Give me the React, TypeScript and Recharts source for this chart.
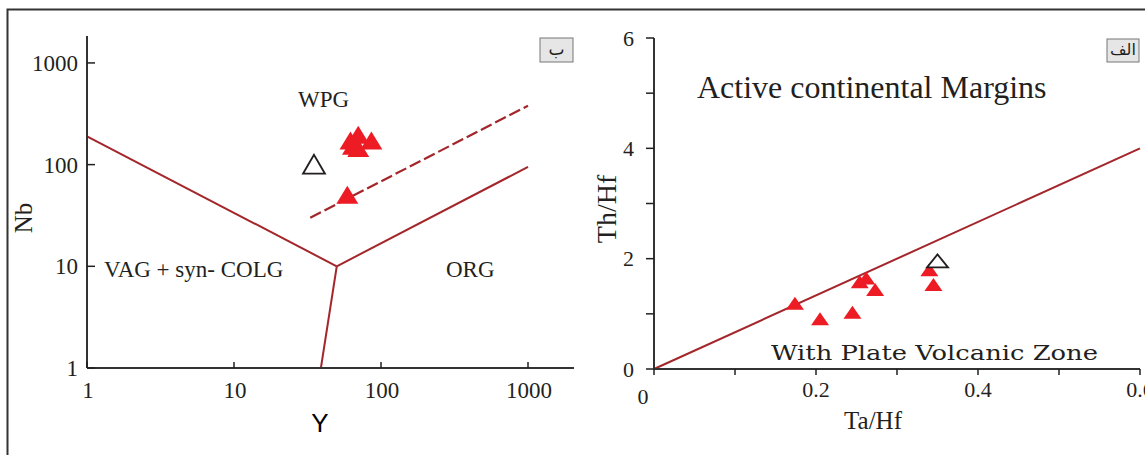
import { ScatterChart, Scatter, XAxis, YAxis, ReferenceLine } from "recharts";

// Y vs Nb (granite discrimination) - samples and reference sample
const sampleY = [62, 70, 86, 70, 64.5, 59];
const sampleNb = [173, 197, 173, 146, 153, 50.6];
const refY = [35];
const refNb = [101];

// Ta/Hf vs Th/Hf - samples and reference sample
const sampleTaHf = [0.174, 0.205, 0.245, 0.254, 0.262, 0.273, 0.34, 0.345];
const sampleThHf = [1.19, 0.91, 1.03, 1.58, 1.65, 1.44, 1.8, 1.53];
const refTaHf = [0.35];
const refThHf = [1.96];

// field boundaries
const vagWpg = [{ x: 1, y: 190 }, { x: 50, y: 10 }];
const vagOrg = [{ x: 50, y: 10 }, { x: 39, y: 1 }];
const orgWpg = [{ x: 50, y: 10 }, { x: 1000, y: 95 }];
const orgWpgDashed = [{ x: 33, y: 30 }, { x: 1000, y: 380 }];
const acmBoundary = [{ x: 0, y: 0 }, { x: 0.6, y: 4 }];

const logTicks = [1, 10, 100, 1000];
const taHfTicks = [0, 0.1, 0.2, 0.3, 0.4, 0.5, 0.6];
const taHfLabels = [0, 0.2, 0.4, 0.6];
const thHfTicks = [0, 1, 2, 3, 4, 5, 6];
const thHfLabels = [0, 2, 4, 6];

const INK = "#231f20";
const FRAME = "#333";
const LINE = "#a3262b";
const RED = "#ed1c24";
const SERIF = '"Liberation Serif", "Times New Roman", serif';

const toPoints = (xs: number[], ys: number[]) => xs.map((x, i) => ({ x, y: ys[i] }));

function triangle(w: number, h: number, fill: string, stroke = "none", sw = 0) {
  return (props: any) => {
    const { cx, cy } = props;
    if (cx == null || cy == null) return null;
    return (
      <polygon
        points={`${cx},${cy - h / 2} ${cx - w / 2},${cy + h / 2} ${cx + w / 2},${cy + h / 2}`}
        fill={fill}
        stroke={stroke}
        strokeWidth={sw}
      />
    );
  };
}

const LogXTick = (props: any) => {
  const { x, y, payload } = props;
  return (
    <g>
      <line x1={x} x2={x} y1={y} y2={y - 6} stroke={INK} strokeWidth={1.5} />
      <text x={x + 1} y={y + 30} textAnchor="middle" fontFamily={SERIF} fontSize={23} fill={INK}>
        {payload.value}
      </text>
    </g>
  );
};

const LogYTick = (props: any) => {
  const { x, y, payload } = props;
  return (
    <g>
      <line x1={x} x2={x + 8} y1={y} y2={y} stroke={INK} strokeWidth={1.5} />
      <text x={x - 9} y={y} dy="0.35em" textAnchor="end" fontFamily={SERIF} fontSize={23} fill={INK}>
        {payload.value}
      </text>
    </g>
  );
};

const RatioXTick = (props: any) => {
  const { x, y, payload } = props;
  const v = payload.value;
  const labelled = taHfLabels.includes(v);
  return (
    <g>
      <line x1={x} x2={x} y1={y} y2={y + 6} stroke={INK} strokeWidth={1.5} />
      {labelled && (
        <text
          x={v === 0 ? x - 11 : x}
          y={v === 0 ? y + 35 : y + 28}
          textAnchor="middle"
          fontFamily={SERIF}
          fontSize={22}
          fill={INK}
        >
          {v}
        </text>
      )}
    </g>
  );
};

const RatioYTick = (props: any) => {
  const { x, y, payload } = props;
  const v = payload.value;
  return (
    <g>
      <line x1={x - 8} x2={x} y1={y} y2={y} stroke={INK} strokeWidth={1.5} />
      {thHfLabels.includes(v) && (
        <text x={x - 20} y={y} dy="0.35em" textAnchor="end" fontFamily={SERIF} fontSize={22} fill={INK}>
          {v}
        </text>
      )}
    </g>
  );
};

const axisLine = { stroke: FRAME, strokeWidth: 2 };

function YNbChart() {
  return (
    <ScatterChart width={600} height={455} margin={{ top: 36, right: 26, bottom: 42, left: 27 }}>
      <XAxis
        type="number"
        dataKey="x"
        scale="log"
        domain={[1, 2055]}
        ticks={logTicks}
        interval={0}
        allowDataOverflow
        height={45}
        tickSize={0}
        tickMargin={0}
        tickLine={false}
        axisLine={axisLine}
        tick={LogXTick}
      />
      <YAxis
        type="number"
        dataKey="y"
        scale="log"
        domain={[1, 1840]}
        ticks={logTicks}
        interval={0}
        allowDataOverflow
        width={60}
        tickSize={0}
        tickMargin={0}
        tickLine={false}
        axisLine={axisLine}
        tick={LogYTick}
      />
      <XAxis xAxisId="top" orientation="top" type="number" scale="log" domain={[1, 2055]} height={0} tick={false} tickLine={false} axisLine={axisLine} />
      <YAxis yAxisId="right" orientation="right" type="number" scale="log" domain={[1, 1840]} width={0} tick={false} tickLine={false} axisLine={axisLine} />
      <ReferenceLine segment={vagWpg} stroke={LINE} strokeWidth={2} />
      <ReferenceLine segment={vagOrg} stroke={LINE} strokeWidth={2} />
      <ReferenceLine segment={orgWpg} stroke={LINE} strokeWidth={2} />
      <ReferenceLine segment={orgWpgDashed} stroke={LINE} strokeWidth={2.2} strokeDasharray="12 4" />
      <Scatter data={toPoints(sampleY, sampleNb)} shape={triangle(22, 18, RED)} isAnimationActive={false} />
      <Scatter data={toPoints(refY, refNb)} shape={triangle(22, 19, "#fff", INK, 1.8)} isAnimationActive={false} />
    </ScatterChart>
  );
}

function RatioChart() {
  return (
    <ScatterChart width={565} height={455} margin={{ top: 38, right: 5, bottom: 41, left: 24 }}>
      <XAxis
        type="number"
        dataKey="x"
        domain={[0, 0.6]}
        ticks={taHfTicks}
        interval={0}
        allowDataOverflow
        height={45}
        tickSize={0}
        tickMargin={0}
        tickLine={false}
        axisLine={axisLine}
        tick={RatioXTick}
      />
      <YAxis
        type="number"
        dataKey="y"
        domain={[0, 6]}
        ticks={thHfTicks}
        interval={0}
        allowDataOverflow
        width={50}
        tickSize={0}
        tickMargin={0}
        tickLine={false}
        axisLine={axisLine}
        tick={RatioYTick}
      />
      <XAxis xAxisId="top" orientation="top" type="number" domain={[0, 0.6]} height={0} tick={false} tickLine={false} axisLine={axisLine} />
      <YAxis yAxisId="right" orientation="right" type="number" domain={[0, 6]} width={0} tick={false} tickLine={false} axisLine={axisLine} />
      <Scatter data={toPoints(sampleTaHf, sampleThHf)} shape={triangle(18, 13, RED)} isAnimationActive={false} />
      <Scatter data={toPoints(refTaHf, refThHf)} shape={triangle(21, 13, "#fff", INK, 1.8)} isAnimationActive={false} />
      <ReferenceLine segment={acmBoundary} stroke={LINE} strokeWidth={2} />
    </ScatterChart>
  );
}

export default function App() {
  return (
    <div style={{ position: "absolute", left: 0, top: 0, width: 1145, height: 455, background: "#fff", overflow: "hidden" }}>
      <div style={{ position: "absolute", left: 0, top: 0 }}>
        <YNbChart />
      </div>
      <div style={{ position: "absolute", left: 580, top: 0 }}>
        <RatioChart />
      </div>
      <svg width={1145} height={455} style={{ position: "absolute", left: 0, top: 0, pointerEvents: "none" }}>
        <path d="M7.5 455 V9.5 H1145" fill="none" stroke={FRAME} strokeWidth={2} />

        {/* left panel */}
        <text x={32} y={218} transform="rotate(-90 32 218)" textAnchor="middle" fontFamily={SERIF} fontSize={25} fill={INK}>Nb</text>
        <text x={320} y={432} textAnchor="middle" fontFamily='"Liberation Sans", Arial, sans-serif' fontSize={26} fill="#000">Y</text>
        <text x={298} y={107} fontFamily={SERIF} fontSize={23} fill={INK}>WPG</text>
        <text x={104} y={277} fontFamily={SERIF} fontSize={23} fill={INK}>VAG + syn- COLG</text>
        <text x={446} y={277} fontFamily={SERIF} fontSize={23} fill={INK}>ORG</text>
        <rect x={540} y={38} width={33} height={24} fill="#e6e6e6" stroke="#777" strokeWidth={1} />
        <text x={556.5} y={50} dy="0.3em" textAnchor="middle" fontFamily='"DejaVu Sans", sans-serif' fontSize={17} fill={INK}>ب</text>

        {/* right panel */}
        <text x={616} y={209} transform="rotate(-90 616 209)" textAnchor="middle" fontFamily={SERIF} fontSize={28} fill={INK}>Th/Hf</text>
        <text x={873} y={429} textAnchor="middle" fontFamily={SERIF} fontSize={25} fill={INK}>Ta/Hf</text>
        <text x={697} y={98} fontFamily={SERIF} fontSize={32} fill={INK}>Active continental Margins</text>
        <text x={771} y={360} fontFamily='"DejaVu Serif", serif' fontSize={20} fill={INK} textLength={327} lengthAdjust="spacingAndGlyphs">
          With Plate Volcanic Zone
        </text>
        <rect x={1107} y={39} width={32} height={23} fill="#e6e6e6" stroke="#777" strokeWidth={1} />
        <text x={1123} y={50} dy="0.3em" textAnchor="middle" fontFamily='"DejaVu Sans", sans-serif' fontSize={16} fill={INK}>الف</text>
      </svg>
    </div>
  );
}
